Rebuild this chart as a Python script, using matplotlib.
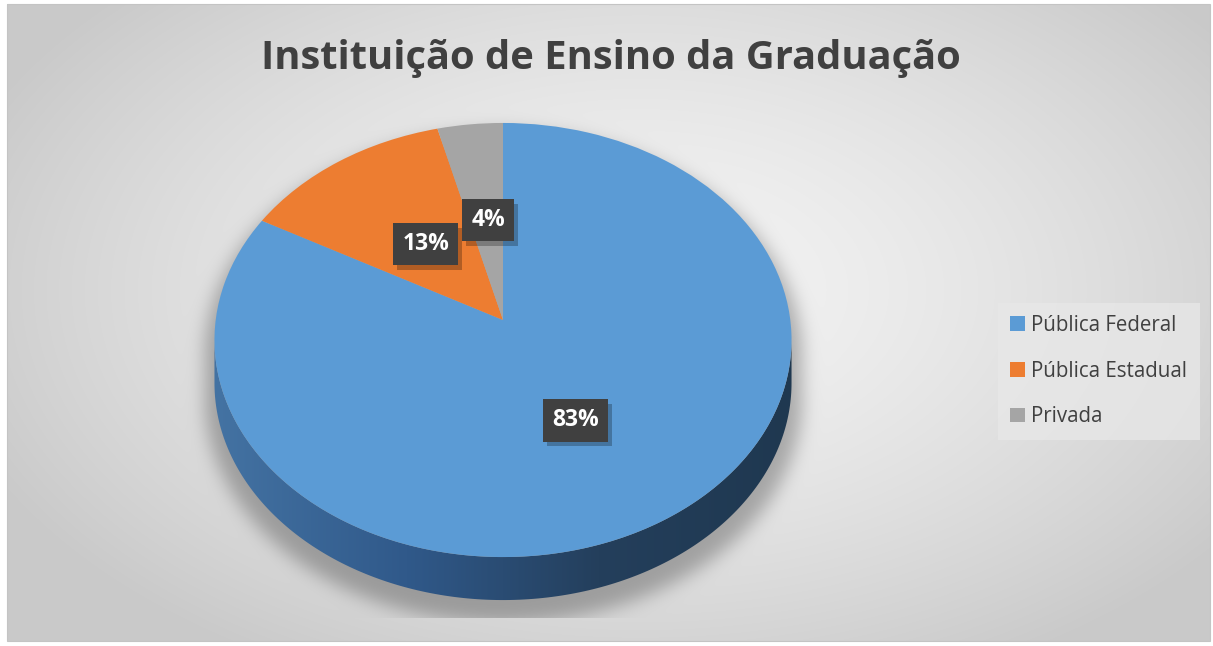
import numpy as np
import matplotlib
matplotlib.use("Agg")
import matplotlib.pyplot as plt
import matplotlib.patheffects as pe
from matplotlib.patches import Rectangle, Polygon
from matplotlib.transforms import Transform
from matplotlib.colors import LinearSegmentedColormap

categories = ["Pública Federal", "Pública Estadual", "Privada"]
values = [83, 13, 4]
colors = ["#5b9bd5", "#ed7d31", "#a5a5a5"]
title = "Instituição de Ensino da Graduação"

W, H = 1213, 646


class Persp(Transform):
    """Tilted-disc perspective: unit circle -> pixel coordinates."""
    input_dims = 2
    output_dims = 2
    is_separable = False
    has_inverse = False

    def __init__(self, cx, cy, A, b, c):
        super().__init__()
        self.cx, self.cy, self.A, self.b, self.c = cx, cy, A, b, c

    def transform_non_affine(self, values):
        values = np.asarray(values, dtype=float)
        u, v = values[:, 0], values[:, 1]
        den = 1 + self.c * v
        return np.column_stack([self.cx + self.A * u / den,
                                self.cy - self.b * v / den])


fig = plt.figure(figsize=(W / 100, H / 100), dpi=100)
fig.patch.set_facecolor("white")
ax = fig.add_axes([0, 0, 1, 1])

# perspective parameters (pixels)
pcx, pcy = 503, 320
c = 0.0922
b = 215.2
A = 287.3
depth = 43
P = Persp(pcx, pcy, A, b, c)

# background radial gradient (chart area)
yy, xx = np.mgrid[0:H, 0:W].astype(float)
gcx, gcy = 640, 290
dist = np.sqrt(((xx - gcx) / 720.0) ** 2 + ((yy - gcy) / 430.0) ** 2)
dist = np.clip(dist, 0, 1)
c_in, c_out = 0.955, 0.79
img = c_in + (c_out - c_in) * dist ** 1.5


# shadow of the pie body (silhouette, enlarged, offset, blurred, clipped)
def inside(px, py, scale=1.0, shift=0.0):
    Y = pcy - (py - shift)
    X = px - pcx
    v = Y / (b - c * Y)
    u = X * (1 + c * v) / A
    return (u ** 2 + v ** 2) <= scale ** 2


mask = np.zeros((H, W), dtype=bool)
sh_off = 14
for s in np.arange(0, depth + 1, 3):
    mask |= inside(xx, yy, scale=1.035, shift=s + sh_off)
mask = mask.astype(float)
sig = 9.0
k = np.arange(-30, 31)
ker = np.exp(-k ** 2 / (2 * sig ** 2)); ker /= ker.sum()
blur = np.zeros_like(mask)
for i, w in zip(k, ker):
    blur += w * np.roll(mask, i, axis=1)
blur2 = np.zeros_like(blur)
for i, w in zip(k, ker):
    blur2 += w * np.roll(blur, i, axis=0)
blur2[yy > 617] = 0
img = img * (1 - 0.28 * blur2)

ax.imshow(np.dstack([img] * 3)[4:641, 7:1210], extent=(7, 1210, 641, 4), aspect="auto", zorder=0)
ax.add_patch(Rectangle((7, 4), 1203, 637, fill=False, edgecolor="#c4c4c4", lw=0.8, zorder=1))

# side wall (front arc between silhouette tangent points)
t0 = np.arctan2(-c, -np.sqrt(1 - c * c)) % (2 * np.pi)
t1 = np.arctan2(-c, np.sqrt(1 - c * c)) + 2 * np.pi
tt = np.linspace(t0, t1, 200)
arc = P.transform_non_affine(np.column_stack([np.cos(tt), np.sin(tt)]))
side_xy = np.vstack([arc, (arc + [0, depth])[::-1]])
side = Polygon(side_xy, closed=True, facecolor="none", edgecolor="none")
ax.add_patch(side)
cmap = LinearSegmentedColormap.from_list("side", ["#4473a3", "#30598a", "#243f5c", "#1f3850"])
grad = np.linspace(0, 1, 256).reshape(1, -1)
im = ax.imshow(grad, cmap=cmap, extent=(arc[:, 0].min(), arc[:, 0].max(), 650, 300),
               aspect="auto", zorder=2)
im.set_clip_path(side)

wedges, _ = ax.pie(values, colors=colors, startangle=90, counterclock=False,
                   wedgeprops=dict(edgecolor="none", zorder=3))
for w in wedges:
    w.set_transform(P + ax.transData)

ax.set_aspect("auto")
ax.set_xlim(0, W)
ax.set_ylim(H, 0)
ax.axis("off")

# percentage labels
label_r = [0.52, 0.46, 0.49]
label_dx = [-7, 1, 2]
for w, v, r, dx in zip(wedges, values, label_r, label_dx):
    mid = np.deg2rad((w.theta1 + w.theta2) / 2)
    px, py = P.transform_non_affine(np.array([[r * np.cos(mid), r * np.sin(mid)]]))[0]
    px += dx
    t = ax.text(px, py, f"{v}%", ha="center", va="center", fontsize=16.5, fontweight="bold",
                family="Open Sans", color="white",
                bbox=dict(boxstyle="square,pad=0.4", facecolor="#404040", edgecolor="none"),
                zorder=6)
    t.get_bbox_patch().set_path_effects([
        pe.SimplePatchShadow(offset=(3, -3.5), shadow_rgbFace="black", alpha=0.25),
        pe.Normal()])

fig.text(611 / W, 1 - 59 / H, title, ha="center", va="center", fontsize=28.7, fontweight="bold",
         color="#404040", family="Open Sans")

leg = ax.legend(wedges, categories, loc="center left", bbox_to_anchor=(998 / W, 1 - 371 / H),
                bbox_transform=fig.transFigure, frameon=True, handlelength=0.72,
                handleheight=0.72, handletextpad=0.3, labelspacing=1.2, borderpad=0.6,
                borderaxespad=0, prop=dict(family="Open Sans", size=14.8))
leg.get_frame().set_facecolor("#e8e8e8")
leg.get_frame().set_alpha(0.75)
leg.get_frame().set_edgecolor("none")
leg.get_frame().set_boxstyle("square", pad=0)
for t in leg.get_texts():
    t.set_color("#404040")

fig.savefig("out.png", dpi=100)
